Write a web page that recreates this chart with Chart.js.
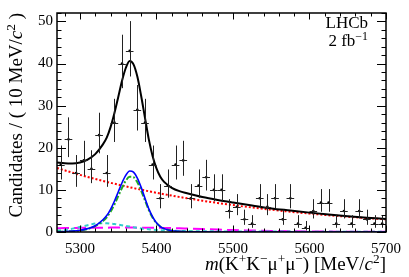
<!DOCTYPE html>
<html>
<head>
<meta charset="utf-8">
<script src="https://cdn.jsdelivr.net/npm/chart.js@4/dist/chart.umd.min.js"></script>
<style>
  html, body { margin: 0; padding: 0; background: #fff; }
  canvas { display: block; }
</style>
</head>
<body>
<canvas id="fit" width="409" height="277"></canvas>
<script>
// bin centres (10 MeV bins) and candidate counts
const binCentres = [5275, 5285, 5295, 5305, 5315, 5325, 5335, 5345, 5355, 5365,
  5375, 5385, 5395, 5405, 5415, 5425, 5435, 5445, 5455, 5465,
  5475, 5485, 5495, 5505, 5515, 5525, 5535, 5545, 5555, 5565,
  5575, 5585, 5595, 5605, 5615, 5625, 5635, 5645, 5655, 5665,
  5675, 5685, 5695];
const counts = [16, 22, 14, 17, 15, 23, 14, 26, 40, 43,
  29, 26, 16, 8, 11, 16, 17, 8, 11, 13,
  10, 10, 5, 6, 3, 2, 8, 6, 8, 3,
  8, 2, 1, 5, 7, 7, 2, 5, 2, 5,
  3, 2, 2];

// fit curves at these masses
const fitMass = [5270, 5280, 5290, 5300, 5310, 5320, 5330, 5335, 5340, 5345,
  5350, 5355, 5360, 5365, 5370, 5375, 5380, 5385, 5390, 5395,
  5400, 5405, 5410, 5420, 5430, 5440, 5460, 5480, 5500, 5525,
  5550, 5575, 5600, 5625, 5650, 5675, 5700];
const totalFit = [16.5, 16.3, 16.25, 16.5, 17.2, 18.5, 20.8, 22.4, 24.9, 28.2,
  32.0, 35.9, 39.0, 40.6, 39.8, 36.9, 32.3, 27.1, 22.0, 18.0,
  15.1, 13.1, 11.9, 10.5, 9.7, 9.2, 8.3, 7.6, 7.0, 6.3,
  5.6, 5.1, 4.6, 4.15, 3.75, 3.4, 3.1];
const combBkg = [15.2, 14.64, 14.1, 13.57, 13.07, 12.59, 12.13, 11.9, 11.68, 11.46,
  11.25, 11.04, 10.83, 10.63, 10.43, 10.23, 10.04, 9.86, 9.67, 9.49,
  9.31, 9.14, 8.97, 8.64, 8.32, 8.01, 7.43, 6.89, 6.39, 5.81,
  5.29, 4.81, 4.38, 3.98, 3.63, 3.3, 3.0];
const signalA = [0.05, 0.1, 0.2, 0.4, 0.8, 1.5, 2.9, 3.9, 5.4, 7.3,
  9.5, 11.7, 13.5, 14.5, 14.2, 12.8, 10.6, 8.0, 5.5, 3.6,
  2.2, 1.3, 0.8, 0.3, 0.15, 0.07, 0.02, 0, 0, 0,
  0, 0, 0, 0, 0, 0, 0];
const signalB = [0.05, 0.1, 0.2, 0.35, 0.7, 1.4, 2.6, 3.5, 4.8, 6.5,
  8.5, 10.5, 12.2, 13.1, 13.0, 11.8, 9.8, 7.5, 5.2, 3.4,
  2.1, 1.3, 0.8, 0.3, 0.12, 0.05, 0.02, 0, 0, 0,
  0, 0, 0, 0, 0, 0, 0];
const peakingA = [0.9, 0.93, 0.95, 1.0, 1.0, 1.0, 1.02, 1.03, 1.04, 1.04,
  1.05, 1.05, 1.05, 1.05, 1.04, 1.03, 1.02, 1.01, 1.0, 1.0,
  1.0, 0.98, 0.96, 0.92, 0.88, 0.82, 0.7, 0.58, 0.45, 0.35,
  0.25, 0.18, 0.12, 0.09, 0.06, 0.04, 0.03];
const peakingB = [0.3, 0.5, 0.8, 1.2, 1.6, 2.0, 2.1, 2.1, 2.0, 1.9,
  1.75, 1.6, 1.45, 1.3, 1.15, 1.0, 0.85, 0.75, 0.65, 0.55,
  0.48, 0.42, 0.37, 0.3, 0.25, 0.22, 0.18, 0.15, 0.13, 0.11,
  0.1, 0.09, 0.08, 0.08, 0.07, 0.07, 0.07];

const xTicks = [5300, 5400, 5500, 5600, 5700];
const yTicks = [0, 10, 20, 30, 40, 50];

const serif = '"Liberation Serif", "DejaVu Serif", serif';

function pts(ys) {
  return fitMass.map((m, i) => ({x: m, y: ys[i]}));
}

function curve(ys, color, width, dash) {
  return {
    type: 'line', data: pts(ys), borderColor: color, borderWidth: width,
    borderDash: dash, pointRadius: 0, fill: false, cubicInterpolationMode: 'monotone'
  };
}

// text with italic / superscript pieces
function richText(ctx, parts, x, y, size, align) {
  const fontOf = p => (p.i ? 'italic ' : '') + (p.s ? size * 0.7 : size) + 'px ' + serif;
  let w = 0;
  parts.forEach(p => { ctx.font = fontOf(p); w += ctx.measureText(p.t).width; });
  let cx = align === 'right' ? x - w : x;
  ctx.textAlign = 'left';
  ctx.textBaseline = 'alphabetic';
  parts.forEach(p => {
    ctx.font = fontOf(p);
    ctx.fillText(p.t, cx, p.s ? y - size * 0.38 : y);
    cx += ctx.measureText(p.t).width;
  });
}

const decorations = {
  id: 'decorations',
  afterDatasetsDraw(chart) {
    const {ctx, chartArea: a, scales: {x, y}} = chart;
    ctx.save();
    ctx.fillStyle = '#000';
    ctx.strokeStyle = '#000';

    // error bars (Poisson-like intervals)
    ctx.save();
    ctx.beginPath();
    ctx.rect(a.left, a.top, a.right - a.left, a.bottom - a.top);
    ctx.clip();
    ctx.lineWidth = 1;
    ctx.strokeStyle = '#222';
    binCentres.forEach((c, i) => {
      const n = counts[i];
      const d = Math.sqrt(n + 0.25);
      const px = Math.round(x.getPixelForValue(c)) + 0.5;
      const py = Math.round(y.getPixelForValue(n)) + 0.5;
      ctx.beginPath();
      ctx.moveTo(x.getPixelForValue(c - 5), py);
      ctx.lineTo(x.getPixelForValue(c + 5), py);
      ctx.moveTo(px, y.getPixelForValue(n - d + 0.5));
      ctx.lineTo(px, y.getPixelForValue(n + d + 0.5));
      ctx.stroke();
    });
    ctx.restore();

    // frame and inward ticks
    ctx.lineWidth = 1.5;
    ctx.strokeRect(a.left, a.top, a.right - a.left, a.bottom - a.top);
    ctx.lineWidth = 1;
    ctx.beginPath();
    for (let v = 0; v <= 52; v += 2) {
      const py = Math.round(y.getPixelForValue(v)) + 0.5;
      const len = v % 10 === 0 ? 9 : 4.5;
      ctx.moveTo(a.left, py); ctx.lineTo(a.left + len, py);
      ctx.moveTo(a.right, py); ctx.lineTo(a.right - len, py);
    }
    for (let v = 5280; v <= 5700; v += 20) {
      const px = Math.round(x.getPixelForValue(v)) + 0.5;
      const len = v % 100 === 0 ? 6.5 : 3.5;
      ctx.moveTo(px, a.bottom); ctx.lineTo(px, a.bottom - len);
      ctx.moveTo(px, a.top); ctx.lineTo(px, a.top + len);
    }
    ctx.stroke();

    // labels
    richText(ctx, [{t: 'LHCb'}], 368, 28, 17, 'right');
    richText(ctx, [{t: '2 fb'}, {t: '−1', s: 1}], 368, 46, 17, 'right');

    richText(ctx, [{t: 'm', i: 1}, {t: '(K'}, {t: '+', s: 1}, {t: 'K'}, {t: '−', s: 1},
      {t: 'μ'}, {t: '+', s: 1}, {t: 'μ'}, {t: '−', s: 1}, {t: ') [MeV/'},
      {t: 'c', i: 1}, {t: '2', s: 1}, {t: ']'}], a.right, 270, 19, 'right');

    ctx.save();
    ctx.translate(22, a.top);
    ctx.rotate(-Math.PI / 2);
    richText(ctx, [{t: 'Candidates / ( 10 MeV/'}, {t: 'c', i: 1}, {t: '2', s: 1}, {t: ' )'}],
      0, 0, 19, 'right');
    ctx.restore();
    ctx.restore();
  }
};

new Chart(document.getElementById('fit'), {
  type: 'scatter',
  data: {
    datasets: [
      {
        data: binCentres.map((c, i) => ({x: c, y: counts[i]})),
        pointRadius: 1.3, pointBackgroundColor: '#000', pointBorderWidth: 0, showLine: false
      },
      curve(totalFit, '#000000', 2, []),
      curve(signalA, '#0000ff', 1.6, []),
      curve(signalB, '#22aa22', 2, [6, 2, 2, 2]),
      curve(combBkg, '#ff0000', 2, [2, 2]),
      curve(peakingB, '#33cccc', 2, [4, 3]),
      curve(peakingA, '#ff00ff', 2, [12, 5])
    ]
  },
  options: {
    responsive: false,
    animation: false,
    devicePixelRatio: 1,
    layout: {padding: {left: 0, right: 21, top: 13, bottom: 0}},
    plugins: {legend: {display: false}, tooltip: {enabled: false}},
    scales: {
      x: {
        type: 'linear', min: 5270, max: 5700,
        afterBuildTicks: s => { s.ticks = xTicks.map(v => ({value: v})); },
        afterFit: s => { s.height = 45; },
        grid: {display: false, drawTicks: false}, border: {display: false},
        ticks: {autoSkip: false, maxRotation: 0, padding: 8, color: '#000',
          font: {family: serif, size: 15}, callback: v => String(v)}
      },
      y: {
        type: 'linear', min: 0, max: 52,
        afterBuildTicks: s => { s.ticks = yTicks.map(v => ({value: v})); },
        afterFit: s => { s.width = 57; },
        grid: {display: false, drawTicks: false}, border: {display: false},
        ticks: {autoSkip: false, padding: 4, color: '#000',
          font: {family: serif, size: 15}, callback: v => String(v)}
      }
    }
  },
  plugins: [decorations]
});
</script>
</body>
</html>
